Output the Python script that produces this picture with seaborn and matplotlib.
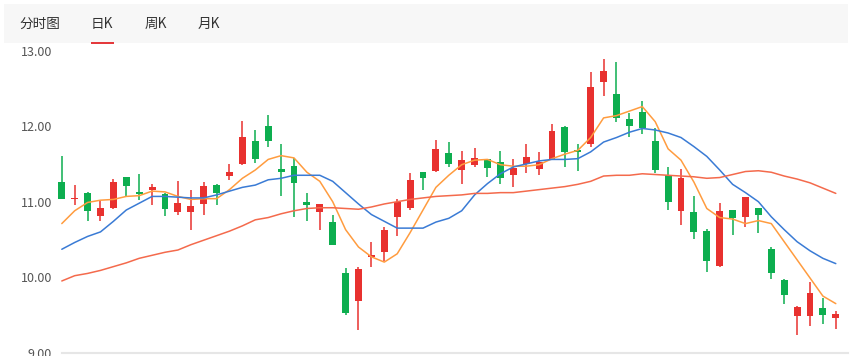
import numpy as np
import pandas as pd
import matplotlib
matplotlib.use('Agg')
import matplotlib.pyplot as plt
import seaborn as sns
from matplotlib.patches import Rectangle

# Daily K-line values
opens = [11.26, 11.03, 11.12, 10.81, 10.91, 11.33, 11.13, 11.15, 11.10, 10.86,
         10.87, 10.97, 11.22, 11.34, 11.50, 11.80, 12.00, 11.43, 11.47, 11.00,
         10.87, 10.73, 10.06, 9.68, 10.27, 10.34, 10.80, 10.92, 11.39, 11.41,
         11.64, 11.42, 11.48, 11.57, 11.52, 11.35, 11.50, 11.43, 11.57, 11.99,
         11.69, 11.76, 12.59, 12.42, 12.09, 12.19, 11.81, 11.35, 10.88, 10.86,
         10.61, 10.15, 10.89, 10.80, 10.91, 10.37, 9.96, 9.48, 9.48, 9.59, 9.46]
highs = [11.61, 11.22, 11.13, 11.01, 11.30, 11.33, 11.37, 11.24, 11.12, 11.28,
         11.16, 11.26, 11.24, 11.50, 12.07, 11.95, 12.15, 11.77, 11.58, 11.12,
         10.97, 10.83, 10.12, 10.13, 10.47, 10.67, 11.04, 11.38, 11.39, 11.82,
         11.79, 11.67, 11.71, 11.57, 11.67, 11.57, 11.76, 11.66, 12.03, 12.00,
         11.77, 12.72, 12.89, 12.85, 12.18, 12.34, 11.97, 11.46, 11.43, 11.08,
         10.64, 10.98, 10.89, 11.06, 10.92, 10.40, 9.97, 9.62, 9.94, 9.72, 9.55]
lows = [11.03, 10.95, 10.75, 10.75, 10.90, 11.06, 11.02, 10.95, 10.81, 10.82,
        10.63, 10.83, 10.95, 11.29, 11.49, 11.51, 11.72, 11.08, 10.80, 10.75,
        10.63, 10.42, 9.50, 9.30, 10.13, 10.22, 10.54, 10.89, 11.16, 11.40,
        11.46, 11.23, 11.46, 11.33, 11.23, 11.19, 11.38, 11.36, 11.55, 11.46,
        11.41, 11.72, 12.40, 12.06, 11.86, 11.90, 11.38, 10.89, 10.69, 10.51,
        10.07, 10.14, 10.56, 10.67, 10.58, 9.98, 9.64, 9.24, 9.35, 9.38, 9.31]
closes = [11.04, 11.05, 10.88, 10.92, 11.26, 11.21, 11.10, 11.19, 10.90, 10.98,
          10.94, 11.21, 11.12, 11.39, 11.86, 11.56, 11.81, 11.39, 11.25, 10.96,
          10.97, 10.42, 9.52, 10.11, 10.29, 10.62, 10.99, 11.29, 11.32, 11.70,
          11.50, 11.55, 11.58, 11.44, 11.32, 11.44, 11.59, 11.52, 11.94, 11.66,
          11.66, 12.52, 12.73, 12.11, 12.00, 11.98, 11.42, 10.99, 11.31, 10.60,
          10.22, 10.88, 10.78, 11.06, 10.82, 10.05, 9.77, 9.61, 9.79, 9.50, 9.51]

ma5 = [10.71, 10.88, 10.99, 11.02, 11.03, 11.07, 11.08, 11.14, 11.13, 11.07,
       11.03, 11.04, 11.04, 11.16, 11.31, 11.42, 11.56, 11.61, 11.58, 11.39,
       11.27, 11.00, 10.63, 10.40, 10.27, 10.20, 10.31, 10.59, 10.89, 11.19,
       11.35, 11.49, 11.55, 11.56, 11.49, 11.47, 11.47, 11.49, 11.57, 11.63,
       11.68, 11.85, 12.11, 12.14, 12.20, 12.26, 12.06, 11.70, 11.55, 11.26,
       10.91, 10.79, 10.77, 10.71, 10.75, 10.71, 10.47, 10.23, 9.99, 9.75, 9.65]
ma10 = [10.37, 10.46, 10.54, 10.60, 10.74, 10.89, 10.98, 11.07, 11.07, 11.06,
        11.05, 11.05, 11.09, 11.14, 11.19, 11.22, 11.29, 11.31, 11.35, 11.35,
        11.35, 11.27, 11.12, 10.97, 10.83, 10.74, 10.65, 10.65, 10.65, 10.73,
        10.78, 10.88, 11.09, 11.24, 11.37, 11.46, 11.50, 11.54, 11.56, 11.56,
        11.57, 11.66, 11.79, 11.85, 11.92, 11.97, 11.95, 11.91, 11.85, 11.73,
        11.60, 11.42, 11.23, 11.12, 11.00, 10.80, 10.63, 10.47, 10.35, 10.25, 10.18]
ma20 = [9.95, 10.02, 10.05, 10.09, 10.14, 10.19, 10.25, 10.29, 10.33, 10.36,
        10.43, 10.49, 10.55, 10.61, 10.68, 10.76, 10.79, 10.84, 10.88, 10.91,
        10.92, 10.92, 10.91, 10.90, 10.93, 10.97, 11.00, 11.03, 11.05, 11.07,
        11.08, 11.09, 11.11, 11.11, 11.12, 11.12, 11.14, 11.16, 11.18, 11.20,
        11.23, 11.27, 11.34, 11.35, 11.35, 11.37, 11.36, 11.35, 11.34, 11.33,
        11.31, 11.32, 11.36, 11.40, 11.41, 11.39, 11.34, 11.30, 11.25, 11.18, 11.11]

yticks = [9, 10, 11, 12, 13]
tabs = ['分时图', '日K', '周K', '月K']
tab_x = [19, 91, 145, 198]

up_color = '#e8312f'
down_color = '#0dae4f'

df = pd.DataFrame({'day': np.arange(len(opens)), 'open': opens, 'high': highs,
                   'low': lows, 'close': closes,
                   'MA5': ma5, 'MA10': ma10, 'MA20': ma20})
df['color'] = np.where(df['close'] >= df['open'], up_color, down_color)

sns.set_style('white')
plt.rcParams['font.family'] = ['Noto Sans CJK SC', 'DejaVu Sans']

W, H = 852, 356
fig = plt.figure(figsize=(W / 100, H / 100), dpi=100)

# header bar with tabs
fig.patches.append(Rectangle((4 / W, 1 - 43 / H), 844 / W, 39 / H,
                             transform=fig.transFigure, facecolor='#f7f7f7',
                             edgecolor='none', zorder=0))
for t, x in zip(tabs, tab_x):
    fig.text(x / W, 1 - 24 / H, t, fontsize=9.8, color='#333333',
             ha='left', va='center')
fig.patches.append(Rectangle((91 / W, 1 - 44 / H), 23 / W, 2.2 / H,
                             transform=fig.transFigure, facecolor='#e4393c',
                             edgecolor='none', zorder=2))

# chart area: 9.00 at y=352.7px, 13.00 at y=50.7px
ax_left, ax_right = 55, 848
ax_bottom, ax_top = 352.7, 50.7
ax = fig.add_axes([ax_left / W, 1 - ax_bottom / H,
                   (ax_right - ax_left) / W, (ax_bottom - ax_top) / H])

# wicks and bodies
ax.vlines(df['day'], df['low'], df['high'], colors=df['color'], linewidth=1.1,
          zorder=2)
body = (df['close'] - df['open']).abs().clip(lower=0.012)
ax.bar(df['day'], body, bottom=df[['open', 'close']].min(axis=1), width=0.54,
       color=df['color'], linewidth=0, zorder=3)

# moving averages
sns.lineplot(data=df, x='day', y='MA5', color='#ff9c3f', linewidth=1.1, ax=ax,
             zorder=4)
sns.lineplot(data=df, x='day', y='MA10', color='#3a7bd5', linewidth=1.1, ax=ax,
             zorder=4)
sns.lineplot(data=df, x='day', y='MA20', color='#f46a4c', linewidth=1.1, ax=ax,
             zorder=4)

ax.set_xlim(-0.527, (ax_right - 61.8) / 12.9)
ax.set_ylim(9, 13)
ax.set_yticks(yticks)
ax.set_yticklabels([f'{v:.2f}' for v in yticks])
ax.set_xticks([])
ax.set_xlabel('')
ax.set_ylabel('')
ax.tick_params(axis='y', length=0, pad=2, labelsize=9, labelcolor='#555555')
for s in ['left', 'right', 'top']:
    ax.spines[s].set_visible(False)
ax.spines['bottom'].set_color('#e6e6e6')
ax.spines['bottom'].set_linewidth(1.5)
ax.spines['bottom'].set_bounds(0, ax.get_xlim()[1])
ax.set_facecolor('none')

fig.savefig('out.png', dpi=100)
